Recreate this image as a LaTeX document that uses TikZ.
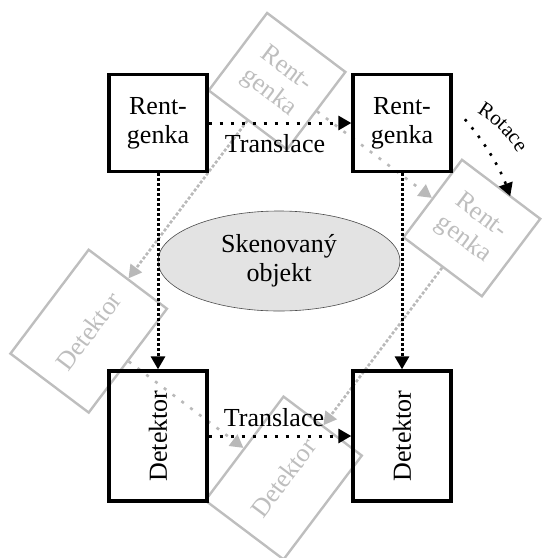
\documentclass[tikz,border=0pt]{standalone}
\usepackage{fontspec}
\setmainfont{Liberation Serif}
\usetikzlibrary{shapes.geometric}
\usetikzlibrary{arrows.meta}
\usetikzlibrary{decorations.text}

\definecolor{ghost}{RGB}{190,190,190}
\definecolor{ghostdot}{RGB}{185,185,185}

\begin{document}
\begin{tikzpicture}[x = 1pt, y = 1pt,
    every node/.style = {font=\fontsize{26}{29}\selectfont, align=center},
    rtgbox/.style = {draw, line width=3.3pt, minimum width=98pt, minimum height=97pt, inner sep=0pt},
    detbox/.style = {draw, line width=3.3pt, minimum width=130pt, minimum height=98pt, inner sep=0pt, rotate=90},
    ghostbox/.style = {draw=ghost, text=ghost, line width=2.4pt},
    tip/.style = {-{Triangle[length=13pt, width=14pt]}},
    sparse/.style = {tip, line width=3pt, dash pattern=on 3pt off 8pt},
    dense/.style = {tip, line width=3pt, dash pattern=on 3pt off 2pt}]

    \useasboundingbox (0,0) rectangle (543,-558);
    \coordinate (c) at (280,-280);

    % rotated position (grey)
    \begin{scope}[rotate around={-37:(c)}, transform shape]
        \node [rtgbox, ghostbox] (grtgA) at (158,-123) {Rent-\\genka};
        \node [rtgbox, ghostbox] (grtgB) at (402,-123) {Rent-\\genka};
        \node [detbox, ghostbox] (gdetA) at (158,-436) {Detektor};
        \node [detbox, ghostbox] (gdetB) at (402,-436) {Detektor};
        \draw [sparse, ghostdot, line width=2.6pt] (grtgA) -- (grtgB);
        \draw [sparse, ghostdot, line width=2.6pt] (gdetA) -- (gdetB);
        \draw [dense, ghostdot, line width=2.6pt] (grtgA) -- (gdetA);
        \draw [dense, ghostdot, line width=2.6pt] (grtgB) -- (gdetB);
    \end{scope}

    \node [ellipse, draw=black!70, line width=0.6pt, fill=black!11, minimum width=242pt, minimum height=100pt, inner sep=0pt] (obj) at (279,-261) {Skenovaný\\objekt};

    % starting position
    \node [rtgbox] (rtgA) at (158,-123) {Rent-\\genka};
    \node [rtgbox] (rtgB) at (402,-123) {Rent-\\genka};
    \node [detbox] (detA) at (158,-436) {Detektor};
    \node [detbox] (detB) at (402,-436) {Detektor};

    \draw [sparse] (rtgA) -- node [below=7pt, xshift=-5pt] {Translace} (rtgB);
    \draw [sparse] (detA) -- node [above=4pt, xshift=-6pt] {Translace} (detB);
    \draw [dense] (rtgA) -- (detA);
    \draw [dense] (rtgB) -- (detB);

    % rotation
    \draw [tip, line width=2.6pt, dash pattern=on 2.6pt off 8pt] ([shift={(41:245pt)}]c) arc (41:20:245pt);
    \coordinate (rc) at (422,-208);
    \path [decorate, decoration={text along path, text align=center, text={|\fontsize{21}{24}\selectfont|Rotace}}] ([shift={(72:110pt)}]rc) arc (72:18:110pt);

\end{tikzpicture}
\end{document}
